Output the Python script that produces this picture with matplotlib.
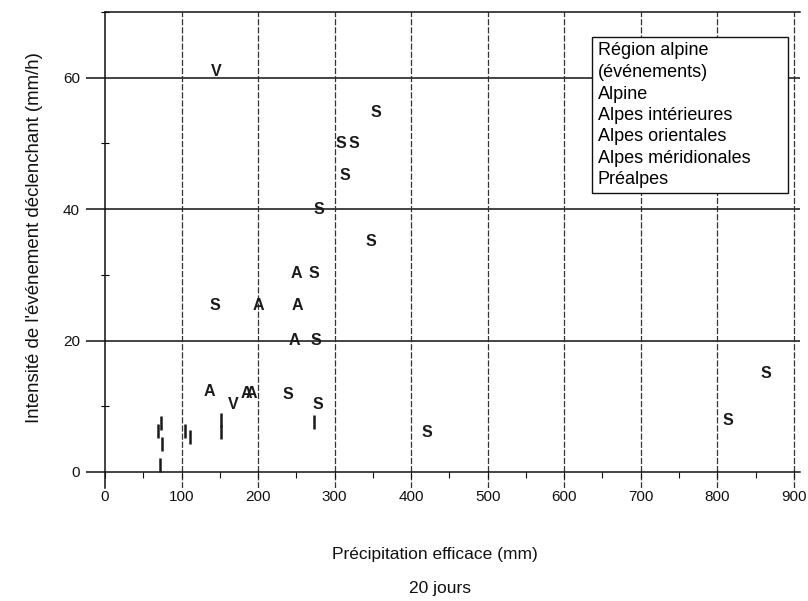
import matplotlib
matplotlib.use('Agg')
import matplotlib.pyplot as plt
from matplotlib.lines import Line2D
from matplotlib.ticker import MultipleLocator

plt.rcParams['font.family'] = ['Liberation Sans', 'DejaVu Sans']

# letter markers: A = Alpine, S = Alpes méridionales, V = Préalpes
alpine_x = [136, 184, 191, 200, 251, 250, 248]
alpine_y = [12.2, 12.0, 12.0, 25.3, 25.3, 30.2, 20.0]

meridionales_x = [354, 308, 325, 313, 280, 347, 273, 144, 275, 239, 278, 420, 814, 864]
meridionales_y = [54.7, 50.0, 50.0, 45.1, 40.0, 35.1, 30.2, 25.3, 20.0, 11.8, 10.2, 6.0, 7.9, 15.0]

prealpes_x = [145, 167]
prealpes_y = [61.0, 10.2]

# Alpes intérieures drawn as short vertical bars
interieures_x = [72.5, 69.5, 75, 72, 104.5, 111, 152, 152, 273]
interieures_y = [7.4, 6.3, 4.2, 1.1, 6.2, 5.3, 7.9, 6.1, 7.6]

legend_title = 'Région alpine\n(événements)'
legend_labels = ['Alpine', 'Alpes intérieures', 'Alpes orientales',
                 'Alpes méridionales', 'Préalpes']

fig = plt.figure(figsize=(8.08, 6.01), dpi=100)
ax = fig.add_axes([0.13, 0.1874, 0.860, 0.7926])

ax.set_xlim(0, 908)
ax.set_ylim(-2.5, 70)

ax.spines['right'].set_visible(False)
ax.spines['bottom'].set_position(('data', 0))
for s in ['left', 'bottom', 'top']:
    ax.spines[s].set_linewidth(1.1)
    ax.spines[s].set_color('#111111')

ax.xaxis.set_major_locator(MultipleLocator(100))
ax.xaxis.set_minor_locator(MultipleLocator(50))
ax.set_yticks([0, 20, 40, 60])
ax.yaxis.set_minor_locator(MultipleLocator(10))
ax.tick_params(axis='x', which='both', direction='out', length=4, width=0.8,
               pad=9, labelsize=11, colors='#111111')
ax.tick_params(axis='y', which='major', direction='out', length=14, width=1.1,
               pad=4, labelsize=11, colors='#111111')
ax.tick_params(axis='y', which='minor', direction='inout', length=6, width=0.8)

# grid: solid horizontal, dashed vertical
for yv in [20, 40, 60]:
    ax.axhline(yv, color='#111111', lw=1.1, zorder=1)
for xv in range(100, 1000, 100):
    ax.axvline(xv, color='#333333', lw=0.9, ls=(0, (5, 1.5)), zorder=1)

def draw_letters(xs, ys, letter):
    for x, y in zip(xs, ys):
        ax.text(x, y, letter, ha='center', va='center', fontsize=11.5,
                fontweight='bold', color='#1a1a1a', zorder=3)

draw_letters(alpine_x, alpine_y, 'A')
draw_letters(meridionales_x, meridionales_y, 'S')
draw_letters(prealpes_x, prealpes_y, 'V')
ax.plot(interieures_x, interieures_y, ls='none', marker='|', markersize=9.5,
        mew=1.8, color='#1a1a1a', zorder=3)

handles = [Line2D([], [], ls='none') for _ in legend_labels]
leg = ax.legend(handles, legend_labels, title=legend_title, loc='upper left',
                bbox_to_anchor=(0.701, 0.630, 0.282, 0.3175), mode='expand',
                borderaxespad=0, handlelength=0, handletextpad=0,
                fontsize=13, title_fontsize=13, alignment='left',
                labelspacing=0.24, fancybox=False, framealpha=1,
                edgecolor='#111111', borderpad=0.3)
leg.get_frame().set_linewidth(1.0)
leg.get_title().set_linespacing(1.38)

fig.text(435 / 808, 1 - 555 / 601, 'Précipitation efficace (mm)',
         ha='center', va='center', fontsize=12.5, color='#111111')
fig.text(440 / 808, 1 - 588 / 601, '20 jours',
         ha='center', va='center', fontsize=12.5, color='#111111')
fig.text(35 / 808, 1 - 238 / 601, "Intensité de l'événement déclenchant (mm/h)",
         ha='center', va='center', rotation=90, fontsize=13.4, color='#111111')

fig.savefig('out.png', dpi=100)
